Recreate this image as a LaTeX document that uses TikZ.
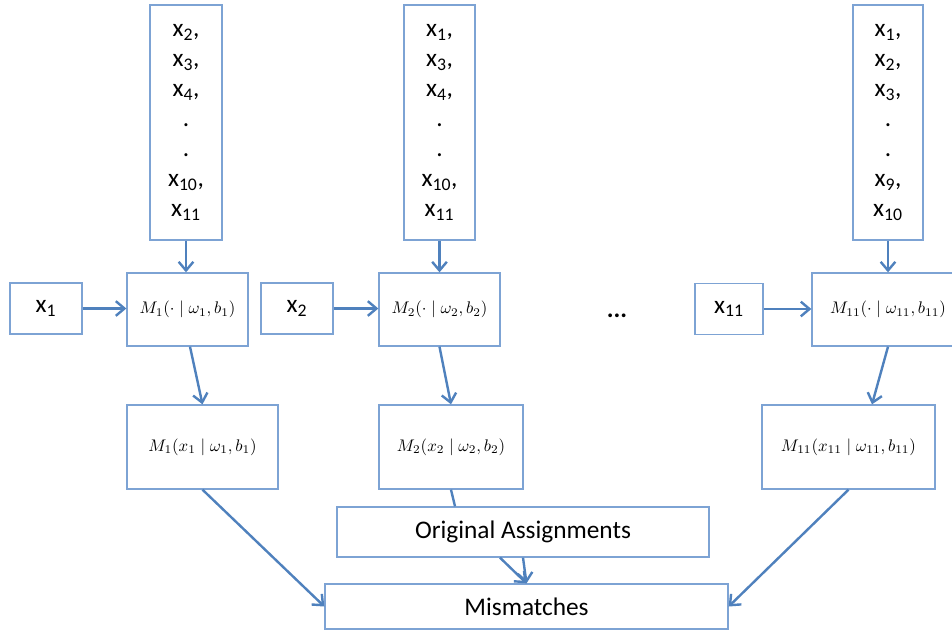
\documentclass[tikz,border=0pt]{standalone}
\usepackage{graphicx}
\usepackage{fontspec}
\setmainfont{Carlito}
\usetikzlibrary{arrows.meta,calc}

\definecolor{linea}{RGB}{79,129,189}
\definecolor{bordo}{RGB}{125,163,212}

\newcommand{\formula}[1]{\scalebox{1.26}{$#1$}}

\tikzset{
  box/.style={draw=bordo,line width=1pt,inner sep=0pt,align=center,font=\fontsize{19}{22.5}\selectfont},
  mbox/.style={box,font=\fontsize{10}{12}\selectfont},
  freccia/.style={draw=linea,line width=1.8pt,-{Straight Barb[length=6.5pt,width=11pt,line width=1.8pt]}},
  linea/.style={draw=linea,line width=1.8pt}
}

\begin{document}
\begin{tikzpicture}[x=0.75pt,y=-0.75pt]
        \path[fill=white,use as bounding box] (0,0) rectangle (952,635);
        %colonne in alto
        \node[box,minimum width=54pt,minimum height=176.25pt] (top1) at (186,122.5)
          {x\textsubscript{2},\\x\textsubscript{3},\\x\textsubscript{4},\\.\\.\\x\textsubscript{10},\\x\textsubscript{11}};
        \node[box,minimum width=53.25pt,minimum height=176.25pt] (top2) at (439.5,122.5)
          {x\textsubscript{1},\\x\textsubscript{3},\\x\textsubscript{4},\\.\\.\\x\textsubscript{10},\\x\textsubscript{11}};
        \node[box,minimum width=52.5pt,minimum height=176.25pt] (top3) at (888,122.5)
          {x\textsubscript{1},\\x\textsubscript{2},\\x\textsubscript{3},\\.\\.\\x\textsubscript{9},\\x\textsubscript{10}};
        %ingressi
        \node[box,minimum width=54pt,minimum height=38.25pt] (in1) at (46,308.5) {x\textsubscript{1}};
        \node[box,minimum width=54pt,minimum height=38.25pt] (in2) at (297,308.5) {x\textsubscript{2}};
        \node[box,minimum width=51pt,minimum height=38.25pt] (in11) at (729,309) {x\textsubscript{11}};
        %modelli
        \node[mbox,minimum width=90.75pt,minimum height=54.75pt] (m1) at (187.5,309.5) {\formula{M_1(\cdot\mid\omega_1,b_1)}};
        \node[mbox,minimum width=90.75pt,minimum height=54.75pt] (m2) at (439.5,309.5) {\formula{M_2(\cdot\mid\omega_2,b_2)}};
        \node[mbox,minimum width=114pt,minimum height=54.75pt] (m11) at (888,309.5) {\formula{M_{11}(\cdot\mid\omega_{11},b_{11})}};
        \node[font=\fontsize{19}{22.5}\selectfont\bfseries] (dots) at (617,316) {...};
        %risultati
        \node[mbox,minimum width=113.25pt,minimum height=63pt] (r1) at (202.5,447) {\formula{M_1(x_1\mid\omega_1,b_1)}};
        \node[mbox,minimum width=108pt,minimum height=63pt] (r2) at (451,447) {\formula{M_2(x_2\mid\omega_2,b_2)}};
        \node[mbox,minimum width=129.75pt,minimum height=63pt] (r11) at (848.5,447) {\formula{M_{11}(x_{11}\mid\omega_{11},b_{11})}};
        %assegnazioni e mismatch
        \node[box,minimum width=279pt,minimum height=37.5pt] (oa) at (523,532) {Original Assignments};
        \node[box,minimum width=302.25pt,minimum height=33.75pt] (mm) at (526.5,606.5) {Mismatches};
        %frecce
        \draw[freccia] (top1.south) -- (top1.south |- m1.north);
        \draw[freccia] (top2.south) -- (top2.south |- m2.north);
        \draw[freccia] (top3.south) -- (top3.south |- m11.north);
        \draw[freccia] (in1.east) -- (in1.east -| m1.west);
        \draw[freccia] (in2.east) -- (in2.east -| m2.west);
        \draw[freccia] (in11.east) -- (in11.east -| m11.west);
        \draw[freccia] ($(m1.south)+(2.5,0)$) -- (r1.north);
        \draw[freccia] (m2.south) -- (r2.north);
        \draw[freccia] (m11.south) -- ($(r11.north)+(23.5,0)$);
        \draw[freccia] (r1.south) -- (mm.west);
        \draw[freccia] (r11.south) -- (mm.east);
        \draw[linea] (r2.south) -- ($(oa.north)+(-68,0)$);
        \draw[freccia] ($(oa.south)+(-23,0)$) -- (mm.north);
        \draw[freccia] (oa.south) -- (mm.north);
\end{tikzpicture}
\end{document}
